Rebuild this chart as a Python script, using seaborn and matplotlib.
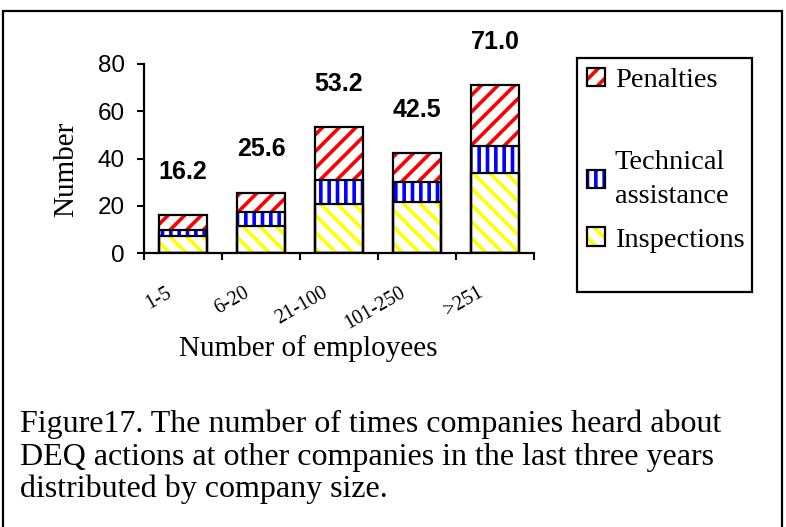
import numpy as np
import pandas as pd
import seaborn as sns
import matplotlib.pyplot as plt
import matplotlib.patches as mpatches
import matplotlib.transforms as mtransforms

# Dados
sizes = ['1-5', '6-20', '21-100', '101-250', '>251']
inspections = [7.0, 11.5, 20.8, 21.7, 33.7]
technical = [2.7, 6.0, 10.3, 8.5, 11.8]
penalties = [6.5, 8.1, 22.1, 12.3, 25.5]
series_names = ['Penalties', 'Technical assistance', 'Inspections']

sns.set_style('white')
plt.rcParams['hatch.linewidth'] = 2.6
for k in ['text.color', 'axes.labelcolor', 'xtick.color', 'ytick.color', 'axes.edgecolor']:
    plt.rcParams[k] = 'black'
SERIF = ['Liberation Serif', 'DejaVu Serif']
SANS = ['Liberation Sans', 'DejaVu Sans']

W, H = 786, 527
def fx(x):
    return x / W
def fy(y):
    return 1 - y / H

fig = plt.figure(figsize=(W / 100, H / 100), dpi=100)
ax = fig.add_axes([fx(144), fy(253), 390 / W, 189 / H])

df = pd.DataFrame({'size': sizes, 'Inspections': inspections,
                   'Technical assistance': technical, 'Penalties': penalties})
df['cum_insp'] = df['Inspections']
df['cum_tech'] = df['cum_insp'] + df['Technical assistance']
df['total'] = df['cum_tech'] + df['Penalties']

layers = [('total', 'red', '//'), ('cum_tech', 'blue', '||'), ('cum_insp', '#FFFF00', '\\\\')]
bar_w = 0.61

# camadas hachuradas (da mais alta para a mais baixa)
for col, cor, hatch in layers:
    n = len(ax.patches)
    sns.barplot(data=df, x='size', y=col, color='white', width=bar_w,
                saturation=1, linewidth=0, ax=ax)
    for p in ax.patches[n:]:
        p.set_facecolor('white')
        p.set_edgecolor(cor)
        p.set_hatch(hatch)
        p.set_linewidth(0)

# contornos pretos
for col, cor, hatch in layers:
    sns.barplot(data=df, x='size', y=col, fill=False, color='black',
                width=bar_w, linewidth=1.6, ax=ax)

# rótulos dos totais
for i, t in enumerate(df['total']):
    ax.annotate(f'{t:.1f}', (i, t), xytext=(0, 31), textcoords='offset points',
                ha='center', va='center', fontsize=18, fontweight='bold',
                family=SANS, color='black')

ax.set_xlim(-0.5, 4.5)
ax.set_ylim(0, 80)
ax.set_yticks([0, 20, 40, 60, 80])
ax.tick_params(axis='y', length=5, width=1.5, direction='out', pad=9,
               labelsize=17.5, left=True)
for lab in ax.get_yticklabels():
    lab.set_family(SANS)

ax.set_xticks(np.arange(-0.5, 5, 1))
ax.set_xticklabels([])
ax.tick_params(axis='x', which='major', length=5, width=1.5, direction='out', bottom=True)
ax.set_xticks(range(5), minor=True)
ax.set_xticklabels(sizes, minor=True, rotation=30, ha='right', va='top',
                   fontsize=14.5, family=SERIF)
ax.tick_params(axis='x', which='minor', length=0, pad=22)
off = mtransforms.ScaledTranslation(-8 / 100, 0, fig.dpi_scale_trans)
for lab in ax.get_xticklabels(minor=True):
    lab.set_transform(lab.get_transform() + off)

sns.despine(ax=ax)
for s in ['left', 'bottom']:
    ax.spines[s].set_linewidth(1.6)
    ax.spines[s].set_color('black')

ax.set_xlabel('Number of employees', fontsize=21, family=SERIF, va='center')
ax.xaxis.set_label_coords(0.42, -0.503)
ax.set_ylabel('Number', fontsize=21, family=SERIF, va='center')
ax.yaxis.set_label_coords(-0.2, 0.444)

# legenda
colors = {'Penalties': ('red', '//'), 'Technical assistance': ('blue', '||'),
          'Inspections': ('#FFFF00', '\\\\')}
def handle(name):
    cor, hatch = colors[name]
    return (mpatches.Patch(facecolor='white', edgecolor=cor, hatch=hatch, lw=0),
            mpatches.Patch(facecolor='none', edgecolor='black', lw=1.6))

leg_kw = dict(frameon=False, prop={'family': SERIF, 'size': 20.5},
              handlelength=0.62, handleheight=0.62, handletextpad=0.36,
              borderpad=0.35, borderaxespad=0, loc='upper left',
              bbox_transform=fig.transFigure, labelcolor='black')
leg1 = fig.legend([handle('Penalties')], ['Penalties'],
                  bbox_to_anchor=(fx(577), fy(58)), **leg_kw)
leg2 = fig.legend([handle('Technical assistance'), handle('Inspections')],
                  ['Technical\nassistance', 'Inspections'], labelspacing=0.63,
                  bbox_to_anchor=(fx(577), fy(140)), **leg_kw)
for t in leg2.get_texts():
    t.set_linespacing(1.5)
fig.add_artist(mpatches.Rectangle((fx(577), fy(292)), 175 / W, 234 / H,
                                  transform=fig.transFigure, fill=False,
                                  edgecolor='black', lw=1.6))

# legenda da figura
caption = ['Figure17. The number of times companies heard about',
           'DEQ actions at other companies in the last three years',
           'distributed by company size.']
for k, linha in enumerate(caption):
    fig.text(fx(20), fy(432 + 32.5 * k), linha, fontsize=23, family=SERIF,
             va='baseline', ha='left', color='black')

# moldura externa
fig.add_artist(mpatches.Rectangle((fx(3), fy(540)), 779 / W, 529 / H,
                                  transform=fig.transFigure, fill=False,
                                  edgecolor='black', lw=1.6))

fig.savefig('out.png', dpi=100)
